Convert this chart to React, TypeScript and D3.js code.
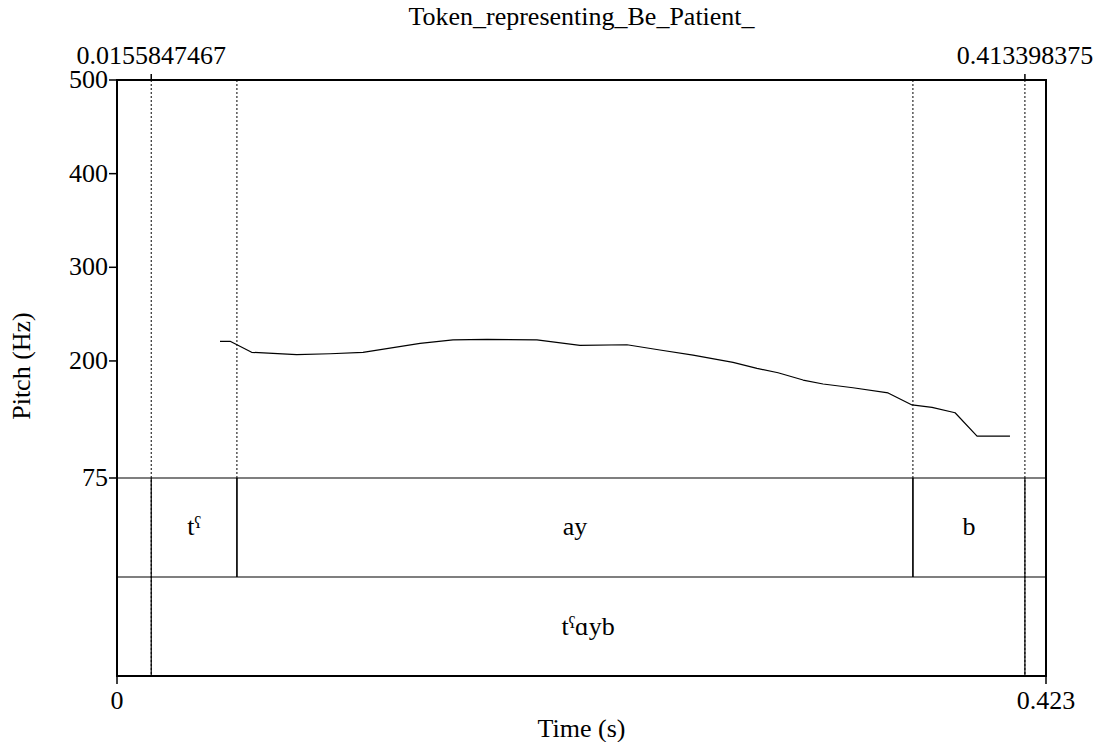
import React from 'react';
import * as d3 from 'd3';

const title = 'Token_representing_Be_Patient_';
const totalDuration = 0.423;
const yTicks = [75, 200, 300, 400, 500];
const topTicks = [0.0155847467, 0.413398375];
const topTickLabels = ['0.0155847467', '0.413398375'];
const bottomTickLabels = ['0', '0.423'];

// pitch track
const pitchTimes = [0.0469, 0.0515, 0.0613, 0.0818, 0.097, 0.112, 0.138, 0.153, 0.1685, 0.1912, 0.2108, 0.2322, 0.2472, 0.2623, 0.2805, 0.2914, 0.301, 0.3124, 0.3215, 0.3351, 0.3511, 0.362, 0.3711, 0.3816, 0.3916, 0.4066];
const pitchHz = [221, 221, 209.2, 206.7, 207.7, 209.2, 218.8, 222.4, 223.1, 222.4, 216.7, 217.3, 211.7, 206.3, 198.5, 192.1, 187.4, 179.6, 175.4, 171.4, 165.8, 153, 150.5, 144.7, 119.8, 119.8];

// TextGrid tiers
const phoneStarts = [0.0155847467, 0.0546, 0.3624];
const phoneEnds = [0.0546, 0.3624, 0.413398375];
const phoneLabels = ['tˤ', 'ay', 'b'];
const wordStarts = [0.0155847467];
const wordEnds = [0.413398375];
const wordLabels = ['tˤɑyb'];

const W = 1096;
const H = 742;
const left = 117;
const right = 1046;
const top = 80;
const pitchBottom = 478;
const tierBottom = 577;
const bottom = 676;
const font = "'Liberation Serif', 'Times New Roman', serif";
const fs = 26;

export default function App() {
  const x = d3.scaleLinear().domain([0, totalDuration]).range([left, right]);
  const y = d3.scaleLinear().domain([75, 500]).range([pitchBottom, top]);

  const pts: [number, number][] = pitchTimes.map((t, i) => [t, pitchHz[i]]);
  const line = d3.line<[number, number]>().x(d => x(d[0])).y(d => y(d[1]));

  const innerBounds = [phoneEnds[0], phoneEnds[1]];
  const ts = { fontFamily: font, fontSize: fs };

  return (
    <svg width={W} height={H} style={{ position: 'absolute', left: 0, top: 0, background: '#fff', fontFamily: font }}>
      <rect width={W} height={H} fill="#fff" />
      <text x={(left + right) / 2} y={25} style={ts} textAnchor="middle">{title}</text>

      {/* dotted boundaries across pitch area */}
      {topTicks.map((t, i) => (
        <line key={'db' + i} x1={x(t)} x2={x(t)} y1={top} y2={bottom} stroke="#000" strokeWidth={1} strokeDasharray="2,2" />
      ))}
      {innerBounds.map((t, i) => (
        <line key={'ib' + i} x1={x(t)} x2={x(t)} y1={top} y2={pitchBottom} stroke="#000" strokeWidth={1} strokeDasharray="2,2" />
      ))}

      {/* tier boundaries */}
      {phoneStarts.map((s, i) => (
        <g key={'p' + i}>
          <line x1={x(s)} x2={x(s)} y1={pitchBottom} y2={tierBottom} stroke="#000" strokeWidth={1.2} />
          <line x1={x(phoneEnds[i])} x2={x(phoneEnds[i])} y1={pitchBottom} y2={tierBottom} stroke="#000" strokeWidth={1.2} />
          <text x={(x(s) + x(phoneEnds[i])) / 2} y={535} style={ts} textAnchor="middle">{phoneLabels[i]}</text>
        </g>
      ))}
      {wordStarts.map((s, i) => (
        <g key={'w' + i}>
          <line x1={x(s)} x2={x(s)} y1={tierBottom} y2={bottom} stroke="#000" strokeWidth={1.2} />
          <line x1={x(wordEnds[i])} x2={x(wordEnds[i])} y1={tierBottom} y2={bottom} stroke="#000" strokeWidth={1.2} />
          <text x={(x(s) + x(wordEnds[i])) / 2} y={635} style={ts} textAnchor="middle">{wordLabels[i]}</text>
        </g>
      ))}
      <line x1={left} x2={right} y1={pitchBottom} y2={pitchBottom} stroke="#000" strokeWidth={1.2} />
      <line x1={left} x2={right} y1={tierBottom} y2={tierBottom} stroke="#000" strokeWidth={1.2} />

      {/* pitch curve */}
      <path d={line(pts) ?? ''} fill="none" stroke="#000" strokeWidth={1.2} strokeLinejoin="round" />

      {/* frame */}
      <rect x={left} y={top} width={right - left} height={bottom - top} fill="none" stroke="#000" strokeWidth={2} />

      {/* y axis */}
      {yTicks.map(v => (
        <g key={'y' + v}>
          <line x1={left - 8} x2={left} y1={y(v)} y2={y(v)} stroke="#000" strokeWidth={1.5} />
          <text x={left - 9} y={y(v) + 8} style={ts} textAnchor="end">{v}</text>
        </g>
      ))}
      <text transform={`translate(30,366) rotate(-90)`} style={ts} textAnchor="middle">Pitch (Hz)</text>

      {/* top ticks */}
      {topTicks.map((t, i) => (
        <g key={'t' + i}>
          <line x1={x(t)} x2={x(t)} y1={top - 6} y2={top} stroke="#000" strokeWidth={1.5} />
          <text x={x(t)} y={64} style={ts} textAnchor="middle">{topTickLabels[i]}</text>
        </g>
      ))}

      {/* bottom ticks */}
      {[0, totalDuration].map((t, i) => (
        <g key={'b' + i}>
          <line x1={x(t)} x2={x(t)} y1={bottom} y2={bottom + 8} stroke="#000" strokeWidth={1.5} />
          <text x={x(t)} y={709} style={ts} textAnchor="middle">{bottomTickLabels[i]}</text>
        </g>
      ))}
      <text x={(left + right) / 2} y={737} style={ts} textAnchor="middle">Time (s)</text>
    </svg>
  );
}
